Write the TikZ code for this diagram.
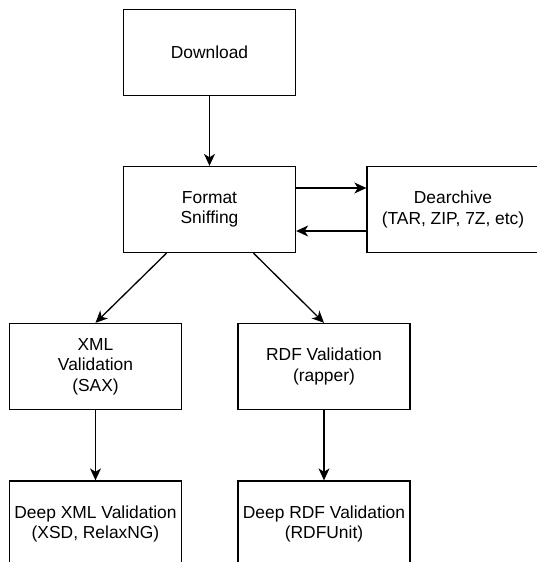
\documentclass[tikz,border=0pt]{standalone}
\usepackage{fontspec}
\setmainfont{Liberation Sans}
\usepackage{tikz}
\usetikzlibrary{arrows.meta}

\begin{document}
\begin{tikzpicture}[x=1pt,y=-1pt,
  stage/.style={draw,line width=1.3pt,minimum width=172pt,minimum height=86pt,align=center,inner sep=0pt,
    font=\fontsize{17.4}{20.5}\selectfont},
  flow/.style={-{Stealth[length=12pt,width=11pt,inset=3.5pt]},line width=1.3pt}]
\useasboundingbox (0,0) rectangle (536,562);
\node[stage] (dl) at (209.5,52.5) {Download};
\node[stage] (sniff) at (209.5,209.5) {Format\\Sniffing};
\node[stage] (dearc) at (453,209.5) {Dearchive\\(TAR, ZIP, 7Z, etc)};
\node[stage] (xmlv) at (95.5,366.5) {XML\\Validation\\(SAX)};
\node[stage] (rdfv) at (324,366.5) {RDF Validation\\(rapper)};
\node[stage] (deepxml) at (95.5,524) {Deep XML Validation\\(XSD, RelaxNG)};
\node[stage] (deeprdf) at (324,524) {Deep RDF Validation\\(RDFUnit)};
\draw[flow] (dl) -- (sniff);
\draw[flow] ([yshift=21.5pt]sniff.east) -- ([yshift=21.5pt]dearc.west);
\draw[flow] ([yshift=-21.5pt]dearc.west) -- ([yshift=-21.5pt]sniff.east);
\draw[flow] ([xshift=-43pt]sniff.south) -- (xmlv.north);
\draw[flow] ([xshift=44pt]sniff.south) -- (rdfv.north);
\draw[flow] (xmlv) -- (deepxml);
\draw[flow] (rdfv) -- (deeprdf);
\end{tikzpicture}
\end{document}
